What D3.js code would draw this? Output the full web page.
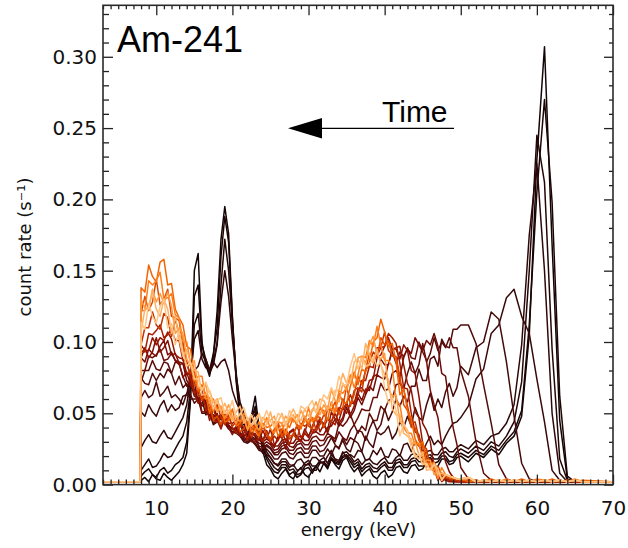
<!DOCTYPE html>
<html><head><meta charset="utf-8">
<script src="https://cdn.jsdelivr.net/npm/d3@7"></script>
<style>body{margin:0;background:#fff}svg{display:block}</style>
</head><body>
<svg id="chart" width="628" height="548"></svg>
<script>
// energy grid (keV)
const energies = [3, 7.9,
  8, 8.5, 9, 9.5, 10, 10.5, 11, 11.5, 12, 12.5,
  13, 13.5, 14, 14.5, 15, 15.5, 16, 16.5, 17, 17.5,
  18, 18.5, 19, 19.5, 20, 20.5, 21, 21.5, 22, 22.5,
  23, 23.5, 24, 24.5, 25, 25.5, 26, 26.5, 27, 27.5,
  28, 28.5, 29, 29.5, 30, 30.5, 31, 31.5, 32, 32.5,
  33, 33.5, 34, 34.5, 35, 35.5, 36, 36.5, 37, 37.5,
  38, 38.5, 39, 39.5, 40, 40.5, 41, 41.5, 42, 42.5,
  43, 43.5, 44, 44.5, 45, 45.5, 46, 46.5, 47, 47.5,
  48, 48.5, 49, 49.5, 50,
  51, 52, 53, 54, 55, 56, 57, 58, 59, 60, 61, 62, 63, 64, 65, 66,
  70];

// count rates in units of 1e-3 s^-1, one spectrum per time step (earliest first)
const s00 = [2, 2,
  3, 5, 2, 7, 4, 3, 8, 5, 3, 6,
  9, 14, 22, 60, 150, 162, 100, 84, 76, 90,
  122, 172, 195, 176, 118, 72, 46, 38, 34, 48,
  62, 40, 23, 14, 11, 6, 4, 8, 11, 6,
  4, 9, 12, 7, 5, 10, 13, 9, 15, 12,
  18, 14, 11, 17, 19, 13, 9, 12, 6, 9,
  11, 6, 4, 8, 10, 5, 7, 12, 13, 9,
  8, 13, 14, 10, 11, 16, 17, 12, 13, 18,
  18, 14, 15, 19, 20,
  16, 22, 19, 25, 21, 29, 34, 48, 105, 228, 307, 168, 45, 4, 2, 2,
  2];
const s01 = [2, 2,
  6, 9, 11, 7, 5, 10, 12, 8, 10, 14,
  16, 19, 30, 62, 132, 140, 98, 88, 80, 92,
  110, 160, 188, 170, 116, 74, 52, 42, 38, 46,
  55, 38, 26, 18, 13, 9, 8, 12, 12, 7,
  9, 5, 7, 11, 12, 8, 13, 16, 15, 11,
  18, 15, 14, 19, 20, 16, 12, 14, 9, 12,
  13, 9, 9, 12, 14, 10, 10, 15, 16, 12,
  12, 16, 17, 13, 13, 18, 19, 15, 16, 20,
  20, 16, 17, 21, 22,
  19, 24, 21, 27, 24, 31, 37, 52, 112, 205, 270, 198, 62, 6, 2, 2,
  2];
const s02 = [2, 2,
  10, 14, 18, 12, 13, 17, 22, 19, 20, 25,
  30, 34, 44, 68, 112, 120, 92, 86, 78, 84,
  98, 140, 172, 150, 112, 78, 55, 46, 40, 44,
  50, 36, 28, 20, 16, 12, 10, 14, 14, 10,
  11, 7, 8, 13, 15, 10, 10, 15, 16, 13,
  19, 16, 15, 20, 21, 18, 14, 16, 11, 14,
  15, 12, 11, 14, 16, 12, 12, 17, 18, 14,
  14, 18, 19, 16, 16, 20, 21, 18, 18, 22,
  23, 20, 19, 23, 25,
  22, 27, 24, 30, 27, 34, 44, 72, 150, 245, 212, 95, 18, 3, 2, 2,
  2];
const s03 = [2, 2,
  26, 31, 35, 30, 29, 34, 38, 33, 32, 37,
  42, 47, 56, 75, 102, 108, 88, 82, 80, 86,
  100, 128, 150, 132, 102, 76, 58, 50, 44, 48,
  52, 40, 30, 23, 19, 15, 13, 16, 16, 12,
  14, 10, 11, 15, 17, 13, 13, 17, 19, 15,
  21, 18, 17, 22, 23, 20, 16, 18, 14, 17,
  18, 15, 14, 17, 19, 15, 15, 19, 21, 17,
  17, 21, 22, 19, 19, 23, 24, 21, 21, 25,
  26, 23, 23, 26, 28,
  25, 31, 28, 34, 36, 43, 56, 98, 175, 225, 150, 50, 8, 2, 2, 2,
  2];
const s04 = [2, 2,
  51, 48, 56, 51, 48, 55, 59, 51, 56, 52,
  54, 62, 63, 77, 80, 83, 92, 88, 80, 86,
  82, 86, 88, 80, 66, 58, 52, 44, 36, 37,
  34, 26, 22, 21, 19, 15, 14, 18, 18, 14,
  13, 17, 18, 14, 14, 19, 19, 16, 15, 20,
  24, 17, 16, 23, 19, 21, 19, 24, 23, 17,
  18, 24, 21, 26, 20, 19, 25, 24, 20, 28,
  29, 23, 30, 27, 23, 29, 34, 28, 31, 28,
  34, 39, 43, 44, 47,
  55, 74, 81, 106, 112, 131, 137, 118, 106, 74, 44, 10, 3, 2, 2, 2,
  2];
const s05 = [2, 2,
  61, 66, 61, 63, 72, 62, 65, 69, 61, 63,
  60, 56, 64, 60, 60, 60, 50, 50, 53, 47,
  44, 48, 46, 40, 37, 36, 34, 30, 29, 31,
  28, 24, 23, 25, 22, 18, 18, 22, 23, 19,
  18, 22, 23, 19, 19, 24, 24, 20, 20, 25,
  21, 27, 26, 31, 25, 23, 31, 29, 23, 34,
  29, 26, 37, 35, 37, 41, 32, 36, 44, 40,
  48, 41, 54, 47, 45, 56, 64, 52, 60, 54,
  65, 71, 62, 68, 83,
  77, 96, 100, 121, 116, 86, 48, 15, 4, 2, 2, 2, 2, 2, 2, 2,
  2];
const s06 = [2, 2,
  75, 71, 70, 78, 73, 78, 75, 81, 78, 70,
  76, 68, 71, 63, 57, 60, 60, 49, 50, 42,
  44, 46, 43, 39, 37, 38, 35, 31, 30, 32,
  29, 25, 25, 27, 25, 21, 21, 25, 26, 22,
  21, 25, 26, 22, 22, 27, 27, 23, 24, 28,
  33, 28, 25, 33, 28, 33, 31, 38, 37, 31,
  39, 45, 38, 42, 53, 45, 51, 60, 55, 62,
  58, 69, 69, 81, 73, 73, 88, 90, 83, 102,
  97, 96, 109, 109, 112,
  112, 99, 70, 43, 14, 4, 2, 2, 2, 2, 2, 2, 2, 2, 2, 2,
  2];
const s07 = [2, 2,
  72, 80, 80, 87, 81, 80, 86, 85, 78, 86,
  85, 76, 69, 71, 62, 61, 55, 58, 52, 43,
  45, 47, 44, 40, 37, 38, 36, 32, 31, 33,
  31, 27, 26, 28, 26, 22, 23, 27, 28, 24,
  24, 28, 29, 25, 25, 30, 31, 27, 28, 33,
  34, 30, 37, 33, 31, 38, 42, 36, 41, 38,
  50, 45, 45, 55, 52, 59, 60, 70, 71, 67,
  78, 86, 78, 84, 99, 86, 92, 103, 94, 100,
  96, 103, 96, 96, 80,
  62, 30, 8, 3, 2, 2, 2, 2, 2, 2, 2, 2, 2, 2, 2, 2,
  2];
const s08 = [2, 2,
  80, 80, 90, 89, 91, 95, 87, 88, 92, 87,
  86, 85, 73, 69, 72, 58, 57, 60, 49, 49,
  46, 48, 45, 41, 39, 39, 37, 33, 32, 34,
  32, 29, 28, 30, 28, 24, 25, 29, 30, 27,
  26, 30, 31, 28, 28, 33, 34, 31, 31, 36,
  34, 32, 43, 41, 44, 49, 42, 47, 53, 52,
  52, 61, 61, 71, 66, 67, 78, 80, 75, 89,
  96, 89, 88, 100, 94, 101, 98, 106, 97, 78,
  76, 56, 40, 28, 12,
  4, 2, 2, 2, 2, 2, 2, 2, 2, 2, 2, 2, 2, 2, 2, 2,
  2];
const s09 = [2, 2,
  89, 86, 95, 92, 90, 97, 101, 91, 93, 87,
  84, 85, 77, 78, 66, 59, 62, 58, 48, 55,
  47, 49, 45, 42, 39, 40, 34, 35, 34, 36,
  34, 31, 30, 32, 30, 27, 27, 31, 32, 29,
  29, 33, 34, 31, 31, 36, 37, 35, 35, 40,
  41, 46, 41, 45, 54, 47, 52, 61, 56, 63,
  69, 66, 77, 75, 74, 85, 93, 85, 93, 90,
  95, 92, 103, 98, 93, 87, 66, 56, 47, 28,
  16, 9, 5, 3, 2,
  2, 2, 2, 2, 2, 2, 2, 2, 2, 2, 2, 2, 2, 2, 2, 2,
  2];
const s10 = [2, 2,
  89, 96, 89, 93, 103, 93, 96, 101, 91, 92,
  85, 75, 79, 70, 66, 65, 51, 51, 54, 47,
  50, 41, 47, 40, 35, 41, 45, 33, 37, 30,
  30, 35, 31, 38, 29, 26, 34, 33, 25, 37,
  39, 33, 31, 39, 34, 39, 37, 45, 43, 36,
  44, 50, 43, 47, 58, 49, 55, 64, 59, 67,
  66, 76, 77, 88, 84, 84, 95, 95, 88, 98,
  94, 80, 78, 62, 43, 38, 30, 12, 10, 3,
  4, 3, 2, 2, 2,
  2, 2, 2, 2, 2, 2, 2, 2, 2, 2, 2, 2, 2, 2, 2, 2,
  2];
const s11 = [2, 2,
  98, 94, 94, 103, 98, 103, 101, 107, 102, 91,
  89, 88, 78, 78, 64, 57, 61, 56, 45, 53,
  45, 39, 47, 43, 43, 45, 34, 36, 41, 35,
  36, 31, 38, 32, 39, 28, 31, 38, 30, 36,
  38, 32, 30, 36, 33, 41, 47, 37, 42, 38,
  51, 46, 45, 54, 50, 57, 57, 67, 68, 64,
  73, 74, 89, 91, 97, 103, 95, 96, 97, 84,
  71, 66, 51, 47, 29, 17, 18, 11, 3, 6,
  3, 2, 2, 2, 2,
  2, 2, 2, 2, 2, 2, 2, 2, 2, 2, 2, 2, 2, 2, 2, 2,
  2];
const s12 = [2, 2,
  94, 93, 106, 105, 108, 112, 103, 105, 109, 101,
  101, 87, 87, 74, 64, 66, 67, 52, 54, 45,
  44, 48, 43, 49, 40, 36, 43, 40, 31, 41,
  42, 34, 30, 37, 30, 34, 31, 39, 36, 28,
  36, 41, 33, 36, 46, 36, 40, 47, 40, 46,
  44, 42, 54, 53, 57, 63, 56, 63, 73, 73,
  83, 82, 96, 96, 97, 106, 103, 99, 85, 68,
  67, 50, 37, 35, 22, 18, 11, 13, 8, 2,
  4, 3, 3, 2, 2,
  2, 3, 2, 2, 3, 2, 2, 3, 2, 2, 3, 2, 2, 3, 2, 2,
  2];
const s13 = [2, 2,
  98, 110, 110, 121, 112, 109, 120, 117, 104, 116,
  105, 101, 84, 78, 80, 63, 61, 63, 52, 53,
  56, 47, 42, 48, 41, 44, 40, 46, 42, 33,
  42, 34, 41, 35, 30, 37, 42, 32, 37, 32,
  35, 32, 43, 41, 43, 47, 38, 42, 49, 46,
  44, 52, 51, 60, 55, 55, 66, 68, 65, 81,
  83, 93, 90, 96, 107, 94, 91, 89, 72, 67,
  55, 43, 44, 33, 28, 25, 11, 10, 11, 5,
  5, 4, 3, 3, 2,
  3, 2, 2, 3, 2, 2, 3, 2, 2, 3, 2, 2, 2, 3, 2, 2,
  2];
const s14 = [2, 2,
  120, 132, 122, 128, 144, 126, 130, 137, 118, 117,
  115, 97, 83, 84, 70, 68, 59, 64, 57, 45,
  48, 42, 50, 46, 46, 48, 37, 39, 44, 38,
  42, 35, 42, 36, 32, 39, 44, 34, 39, 34,
  35, 42, 40, 48, 41, 39, 48, 47, 40, 53,
  52, 58, 49, 54, 69, 56, 63, 76, 70, 80,
  92, 88, 89, 103, 98, 101, 90, 90, 76, 56,
  52, 40, 40, 31, 26, 23, 11, 10, 13, 7,
  6, 5, 4, 4, 3,
  3, 2, 3, 2, 3, 2, 3, 2, 3, 2, 3, 2, 3, 2, 3, 2,
  2];
const s15 = [2, 2,
  138, 135, 154, 146, 142, 156, 158, 140, 141, 123,
  117, 112, 97, 95, 77, 66, 70, 63, 50, 60,
  53, 55, 44, 45, 53, 41, 43, 48, 39, 42,
  38, 34, 43, 40, 41, 44, 34, 38, 44, 40,
  47, 41, 39, 47, 42, 47, 45, 53, 52, 45,
  58, 51, 64, 58, 57, 69, 79, 70, 81, 79,
  86, 100, 103, 116, 107, 97, 99, 86, 63, 67,
  52, 46, 32, 27, 30, 16, 14, 16, 8, 8,
  7, 5, 5, 4, 4,
  2, 3, 2, 4, 2, 3, 2, 4, 2, 3, 2, 4, 2, 3, 2, 3,
  2];
const s16 = [2, 2,
  122, 122, 143, 140, 143, 149, 130, 131, 134, 119,
  117, 100, 100, 85, 73, 76, 76, 60, 61, 51,
  60, 51, 46, 52, 45, 48, 44, 50, 46, 37,
  38, 44, 40, 47, 39, 36, 44, 43, 35, 47,
  44, 49, 41, 44, 54, 44, 48, 55, 49, 55,
  53, 50, 66, 64, 68, 77, 68, 77, 90, 89,
  101, 97, 111, 98, 87, 87, 83, 59, 56, 40,
  36, 36, 28, 29, 18, 12, 15, 12, 4, 12,
  7, 6, 5, 4, 4,
  5, 2, 3, 3, 2, 4, 2, 3, 2, 4, 3, 2, 3, 2, 4, 2,
  2];
const s17 = [2, 2,
  130, 124, 123, 137, 128, 134, 127, 135, 125, 106,
  110, 106, 88, 83, 87, 68, 67, 70, 57, 59,
  51, 55, 50, 56, 47, 43, 50, 47, 38, 49,
  42, 38, 47, 44, 45, 48, 38, 42, 48, 44,
  49, 43, 52, 47, 44, 52, 58, 49, 56, 52,
  67, 59, 58, 71, 66, 75, 75, 89, 90, 85,
  98, 104, 91, 88, 92, 67, 62, 63, 44, 42,
  38, 28, 30, 21, 14, 17, 17, 7, 9, 4,
  7, 6, 5, 4, 4,
  5, 2, 3, 2, 3, 2, 3, 2, 3, 2, 3, 2, 3, 2, 3, 2,
  2];
const s18 = [2, 2,
  107, 123, 123, 136, 123, 118, 130, 123, 106, 118,
  102, 90, 95, 85, 80, 79, 63, 63, 66, 58,
  60, 51, 57, 50, 45, 51, 55, 43, 47, 41,
  46, 50, 40, 42, 51, 40, 44, 50, 43, 47,
  53, 47, 45, 53, 48, 53, 51, 60, 59, 53,
  55, 66, 66, 78, 71, 71, 86, 88, 81, 99,
  91, 85, 95, 84, 77, 74, 53, 49, 49, 36,
  34, 32, 21, 18, 23, 10, 11, 15, 7, 8,
  7, 6, 5, 4, 4,
  5, 2, 3, 2, 3, 2, 3, 2, 3, 2, 3, 2, 3, 2, 3, 2,
  2];
const s19 = [2, 2,
  114, 109, 127, 118, 113, 125, 130, 110, 113, 98,
  108, 93, 83, 86, 74, 74, 66, 72, 65, 53,
  59, 61, 50, 51, 59, 47, 49, 54, 45, 49,
  43, 49, 45, 52, 44, 41, 50, 48, 41, 52,
  47, 44, 55, 53, 55, 59, 50, 55, 63, 60,
  68, 62, 76, 70, 70, 83, 92, 81, 89, 83,
  84, 90, 83, 86, 68, 57, 61, 52, 34, 43,
  37, 26, 19, 22, 14, 15, 10, 14, 11, 3,
  7, 6, 5, 4, 4,
  5, 2, 3, 2, 3, 2, 3, 2, 3, 2, 3, 2, 3, 2, 3, 2,
  2];
const spectra = [s00, s01, s02, s03, s04, s05, s06, s07, s08, s09, s10, s11, s12, s13, s14, s15, s16, s17, s18, s19];

const xMajorTicks = [10, 20, 30, 40, 50, 60, 70];
const yMajorTicks = [0.00, 0.05, 0.10, 0.15, 0.20, 0.25, 0.30];
const titleText = "Am-241";
const arrowText = "Time";
const xLabel = "energy (keV)";
const yLabel = "count rate (s\u207B\u00B9)";

spectra.forEach((s, k) => { if (s.length !== energies.length) throw new Error("series " + k + " has " + s.length + " values, expected " + energies.length); });

// ---- styles ----
const curveColors = ["#140404","#1c0505","#240606","#2e0808","#3a0909","#450a0a","#520b0b","#5e0c0a","#6a0c08","#770d06",
  "#851005","#961500","#aa1e00","#c23200","#dc4a00","#f26400","#ff7e1a","#ff9a40","#ffb062","#ffc584"];

const svg = d3.select("#chart");
const L = 103, R = 613, T = 5.3, B = 484.6;
const x = d3.scaleLinear().domain([3, 70]).range([L, R]);
const y = d3.scaleLinear().domain([0, 0.3361]).range([B, T]);

svg.append("defs").append("clipPath").attr("id", "clip")
  .append("rect").attr("x", L).attr("y", T).attr("width", R - L).attr("height", B - T);

const line = d3.line()
  .x((d, i) => x(energies[i]))
  .y(d => y(d / 1000));

const g = svg.append("g").attr("clip-path", "url(#clip)");
spectra.forEach((s, k) => {
  g.append("path").attr("d", line(s))
    .attr("fill", "none")
    .attr("stroke", curveColors[k])
    .attr("stroke-width", 1.5)
    .attr("stroke-linejoin", "round");
});

// axes
const tickFont = "DejaVu Sans, sans-serif";
const minorX = d3.range(3, 71, 1).filter(v => v % 10 !== 0);
const minorY = d3.range(0, 34, 1).map(v => v / 100).filter((v, i) => i % 5 !== 0);

function styleAxis(sel) {
  sel.select(".domain").remove();
  sel.selectAll(".tick line").attr("stroke", "#222").attr("stroke-width", 1.3);
  sel.selectAll("text").attr("fill", "#111").style("font-family", tickFont).style("font-size", "20px");
}

// bottom
svg.append("g").attr("transform", `translate(0,${B})`)
  .call(d3.axisBottom(x).tickValues(xMajorTicks).tickSizeInner(-10).tickSizeOuter(0).tickPadding(16).tickFormat(d3.format("d")))
  .call(styleAxis);
svg.append("g").attr("transform", `translate(0,${B})`)
  .call(d3.axisBottom(x).tickValues(minorX).tickSizeInner(-5).tickSizeOuter(0).tickFormat(""))
  .call(styleAxis);
// top
svg.append("g").attr("transform", `translate(0,${T})`)
  .call(d3.axisTop(x).tickValues(xMajorTicks).tickSizeInner(-10).tickSizeOuter(0).tickFormat(""))
  .call(styleAxis);
svg.append("g").attr("transform", `translate(0,${T})`)
  .call(d3.axisTop(x).tickValues(minorX).tickSizeInner(-4).tickSizeOuter(0).tickFormat(""))
  .call(styleAxis);
// left
svg.append("g").attr("transform", `translate(${L},0)`)
  .call(d3.axisLeft(y).tickValues(yMajorTicks).tickSizeInner(-10).tickSizeOuter(0).tickPadding(6).tickFormat(d3.format(".2f")))
  .call(styleAxis);
svg.append("g").attr("transform", `translate(${L},0)`)
  .call(d3.axisLeft(y).tickValues(minorY).tickSizeInner(-6).tickSizeOuter(0).tickFormat(""))
  .call(styleAxis);
// right
svg.append("g").attr("transform", `translate(${R},0)`)
  .call(d3.axisRight(y).tickValues(yMajorTicks).tickSizeInner(-9).tickSizeOuter(0).tickFormat(""))
  .call(styleAxis);
svg.append("g").attr("transform", `translate(${R},0)`)
  .call(d3.axisRight(y).tickValues(minorY).tickSizeInner(-4).tickSizeOuter(0).tickFormat(""))
  .call(styleAxis);

// frame
svg.append("rect").attr("x", L).attr("y", T).attr("width", R - L).attr("height", B - T)
  .attr("fill", "none").attr("stroke", "#2a2a2a").attr("stroke-width", 1.6);

// axis titles
svg.append("text").attr("x", (L + R) / 2 + 0.5).attr("y", 536)
  .attr("text-anchor", "middle").style("font-family", tickFont).style("font-size", "18px").attr("fill", "#111")
  .text(xLabel);
svg.append("text").attr("transform", "translate(31,247) rotate(-90)")
  .attr("text-anchor", "middle").style("font-family", tickFont).style("font-size", "18px").attr("fill", "#111")
  .text(yLabel);

// annotations
svg.append("text").attr("x", 117).attr("y", 52)
  .style("font-family", "Liberation Sans, Arial, sans-serif").style("font-size", "36px").attr("fill", "#000")
  .text(titleText);
svg.append("text").attr("x", 382).attr("y", 122)
  .style("font-family", "Liberation Sans, Arial, sans-serif").style("font-size", "30px").attr("fill", "#000")
  .text(arrowText);
svg.append("line").attr("x1", 318).attr("x2", 454).attr("y1", 128.3).attr("y2", 128.3)
  .attr("stroke", "#000").attr("stroke-width", 1.2);
svg.append("path").attr("d", "M288,128.3 L322,118 L322,138.6 Z").attr("fill", "#000");
</script>
</body></html>
